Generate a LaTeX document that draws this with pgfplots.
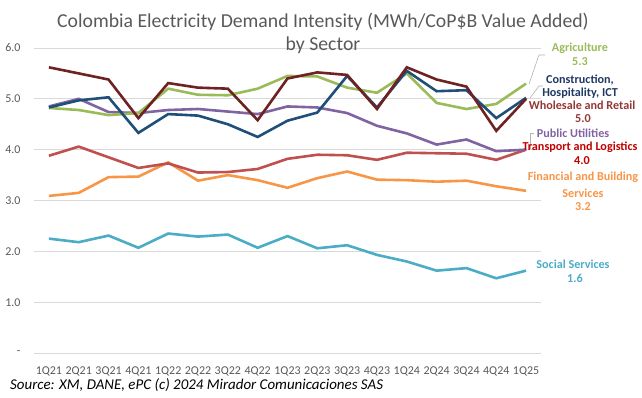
\documentclass[border=0pt]{standalone}
\usepackage{fontspec}
\setmainfont{Carlito}
\usepackage{pgfplots}
\usepackage{pgfplotstable}
\pgfplotsset{compat=1.18}
\definecolor{agri}{HTML}{9BBB59}
\definecolor{cons}{HTML}{1F4E79}
\definecolor{whol}{HTML}{6E2222}
\definecolor{util}{HTML}{8064A2}
\definecolor{trans}{HTML}{C0504D}
\definecolor{fin}{HTML}{F79646}
\definecolor{soc}{HTML}{4BACC6}
\definecolor{consl}{HTML}{1F3864}
\definecolor{wholl}{HTML}{953735}
\definecolor{transl}{HTML}{C00000}
\definecolor{txtgray}{HTML}{595959}
\definecolor{gridgray}{HTML}{D9D9D9}
\pgfplotstableread{
x agri cons whol util trans fin soc
0 4.82 4.83 5.62 4.85 3.88 3.09 2.25
1 4.78 4.97 5.50 5.00 4.06 3.15 2.18
2 4.68 5.03 5.38 4.74 3.85 3.46 2.31
3 4.72 4.33 4.62 4.72 3.64 3.47 2.07
4 5.20 4.70 5.31 4.78 3.73 3.75 2.35
5 5.08 4.67 5.22 4.80 3.55 3.39 2.29
6 5.07 4.50 5.20 4.75 3.56 3.50 2.33
7 5.20 4.25 4.58 4.70 3.62 3.40 2.07
8 5.45 4.57 5.40 4.85 3.82 3.25 2.30
9 5.44 4.73 5.52 4.83 3.90 3.44 2.06
10 5.22 5.45 5.47 4.72 3.89 3.57 2.12
11 5.12 4.83 4.80 4.47 3.80 3.41 1.93
12 5.50 5.55 5.62 4.32 3.94 3.40 1.80
13 4.92 5.15 5.38 4.10 3.93 3.37 1.62
14 4.80 5.17 5.24 4.20 3.92 3.39 1.67
15 4.90 4.62 4.37 3.97 3.80 3.28 1.47
16 5.30 5.02 5.00 4.00 4.00 3.19 1.62
}\data
\begin{document}
\begin{tikzpicture}[x=1bp,y=1bp]
\useasboundingbox (0,0) rectangle (642,397);
\begin{axis}[
  at={(34bp,44bp)}, anchor=south west,
  scale only axis, width=507bp, height=305bp,
  xmin=-0.5, xmax=16.5, ymin=0, ymax=6,
  axis line style={draw=none},
  major tick style={draw=none},
  ymajorgrids, grid style={color=gridgray, line width=0.9bp},
  xtick={0,...,16},
  xticklabels={1Q21,2Q21,3Q21,4Q21,1Q22,2Q22,3Q22,4Q22,1Q23,2Q23,3Q23,4Q23,1Q24,2Q24,3Q24,4Q24,1Q25},
  ytick={0,1,2,3,4,5,6},
  yticklabels={-\hspace{7bp},1.0,2.0,3.0,4.0,5.0,6.0},
  tick label style={font=\fontsize{12}{14}\selectfont, text=txtgray},
  yticklabel style={xshift=-10bp},
  xticklabel style={yshift=-10bp},
  clip=false,
]
\addplot[soc, line width=2.6bp] table[x=x,y=soc]{\data};
\addplot[fin, line width=2.6bp] table[x=x,y=fin]{\data};
\addplot[trans, line width=2.6bp] table[x=x,y=trans]{\data};
\addplot[util, line width=2.6bp] table[x=x,y=util]{\data};
\addplot[agri, line width=2.6bp] table[x=x,y=agri]{\data};
\addplot[cons, line width=2.6bp] table[x=x,y=cons]{\data};
\addplot[whol, line width=2.6bp] table[x=x,y=whol]{\data};
\end{axis}
% title
\node[text=txtgray, font=\fontsize{19.8}{23}\selectfont, align=center] at (323,364) {Colombia Electricity Demand Intensity (MWh/CoP\$B Value Added)\\by Sector};
% leader lines
\draw[gray!60, line width=0.6bp] (529,313) -- (539,342) -- (545,342);
\draw[gray!60, line width=0.6bp] (530,299) -- (539,311) -- (543,311);
\draw[gray!60, line width=0.6bp] (530,248) -- (530,264) -- (534,264);
% labels
\begin{scope}[every node/.style={font=\bfseries\fontsize{12.2}{14}\selectfont, inner sep=0pt}]
\node[text=agri] at (580,349) {Agriculture};
\node[text=agri] at (580,335) {5.3};
\node[text=consl] at (580,317) {Construction,};
\node[text=consl] at (580,304) {Hospitality, ICT};
\node[text=wholl] at (582,292) {Wholesale and Retail};
\node[text=wholl] at (583,278) {5.0};
\node[text=util] at (573,264) {Public Utilities};
\node[text=transl] at (580,250) {Transport and Logistics};
\node[text=transl] at (582,236) {4.0};
\node[text=fin] at (583,220) {Financial and Building};
\node[text=fin] at (583,204) {Services};
\node[text=fin] at (583,190) {3.2};
\node[text=soc] at (573,133) {Social Services};
\node[text=soc] at (575,119) {1.6};
\end{scope}
\node[anchor=west, inner sep=0pt, font=\itshape\fontsize{15}{17}\selectfont] at (10,12) {Source: XM, DANE, ePC (c) 2024 Mirador Comunicaciones SAS};
\end{tikzpicture}
\end{document}
